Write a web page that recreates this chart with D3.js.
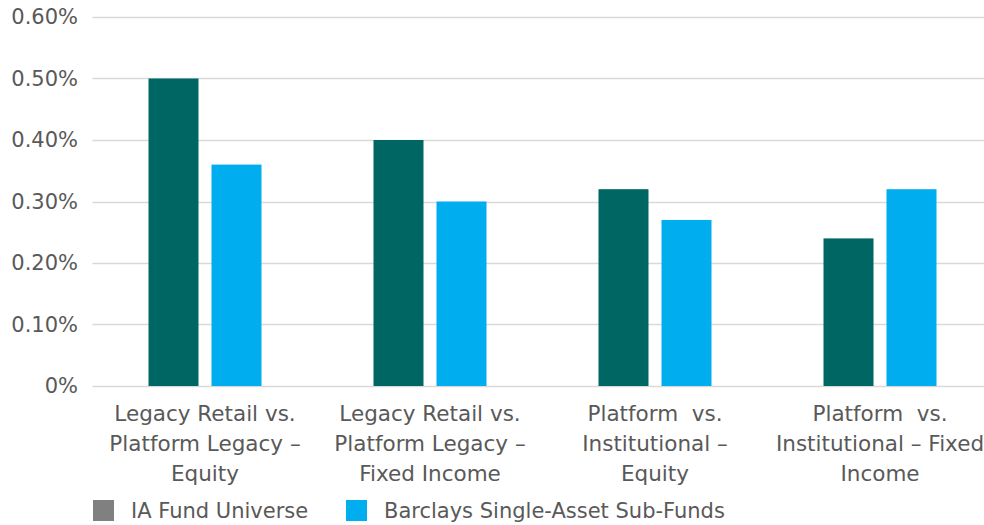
<!DOCTYPE html>
<html>
<head>
<meta charset="utf-8">
<script src="https://cdn.jsdelivr.net/npm/d3@7"></script>
<style>
  body { margin: 0; background: #fff; }
  text { font-family: "DejaVu Sans", "Open Sans", sans-serif; fill: #595959; white-space: pre; }
</style>
</head>
<body>
<svg id="chart" width="984" height="525"></svg>
<script>
var categories = [
  ["Legacy Retail vs.", "Platform Legacy \u2013", "Equity"],
  ["Legacy Retail vs.", "Platform Legacy \u2013", "Fixed Income"],
  ["Platform  vs.", "Institutional \u2013", "Equity"],
  ["Platform  vs.", "Institutional \u2013 Fixed", "Income"]
]
var seriesNames = ["IA Fund Universe", "Barclays Single-Asset Sub-Funds"]
var iaFund = [0.50, 0.40, 0.32, 0.24]
var barclays = [0.36, 0.30, 0.27, 0.32]
var yTicks = [0, 0.1, 0.2, 0.3, 0.4, 0.5, 0.6]

var svg = d3.select("#chart")
var plotLeft = 92.5, plotRight = 992.5, plotTop = 17, plotBottom = 386

var x = d3.scaleBand()
  .domain(d3.range(categories.length))
  .range([plotLeft, plotRight])

var y = d3.scaleLinear()
  .domain([0, 0.6])
  .range([plotBottom, plotTop])

var barColors = ["#006663", "#00AEEF"]
var legendColors = ["#808080", "#00AEEF"]

// gridlines
svg.append("g")
  .selectAll("line")
  .data(yTicks)
  .enter()
  .append("line")
    .attr("x1", plotLeft)
    .attr("x2", plotRight)
    .attr("y1", function(d) { return Math.round(y(d)) + 0.5 })
    .attr("y2", function(d) { return Math.round(y(d)) + 0.5 })
    .style("stroke", "#d9d9d9")
    .style("stroke-width", 1.5)

// y labels
svg.append("g")
  .selectAll("text")
  .data(yTicks)
  .enter()
  .append("text")
    .attr("x", 78)
    .attr("y", function(d) { return y(d) })
    .attr("dy", "0.35em")
    .attr("text-anchor", "end")
    .attr("font-size", 21)
    .text(function(d) { return d == 0 ? "0%" : d.toFixed(2) + "%" })

var bw = 50, gap = 13
var rows = []
categories.forEach(function(c, i) {
  rows.push({cat: i, s: 0, v: iaFund[i]})
  rows.push({cat: i, s: 1, v: barclays[i]})
})

svg.append("g")
  .selectAll("rect")
  .data(rows)
  .enter()
  .append("rect")
    .attr("x", function(d) {
      var c = x(d.cat) + x.bandwidth() / 2
      return d.s == 0 ? c - gap / 2 - bw : c + gap / 2
    })
    .attr("y", function(d) { return y(d.v) })
    .attr("width", bw)
    .attr("height", function(d) { return y(0) - y(d.v) })
    .style("fill", function(d) { return barColors[d.s] })

// category labels
var lab = svg.append("g")
  .selectAll("text")
  .data(categories)
  .enter()
  .append("text")
    .attr("text-anchor", "middle")
    .attr("font-size", 21.5)
    .attr("transform", function(d, i) { return "translate(" + (x(i) + x.bandwidth() / 2) + ",421)" })

lab.selectAll("tspan")
  .data(function(d) { return d })
  .enter()
  .append("tspan")
    .attr("x", 0)
    .attr("y", function(d, i) { return i * 30 })
    .text(function(d) { return d })

// legend
var legX = [93, 346]
var leg = svg.append("g")
  .selectAll("g")
  .data(seriesNames)
  .enter()
  .append("g")
    .attr("transform", function(d, i) { return "translate(" + legX[i] + ",500)" })

leg.append("rect")
  .attr("width", 21)
  .attr("height", 21)
  .style("fill", function(d, i) { return legendColors[i] })

leg.append("text")
  .attr("x", 38)
  .attr("y", 11)
  .attr("dy", "0.35em")
  .attr("font-size", 21)
  .text(function(d) { return d })
</script>
</body>
</html>
